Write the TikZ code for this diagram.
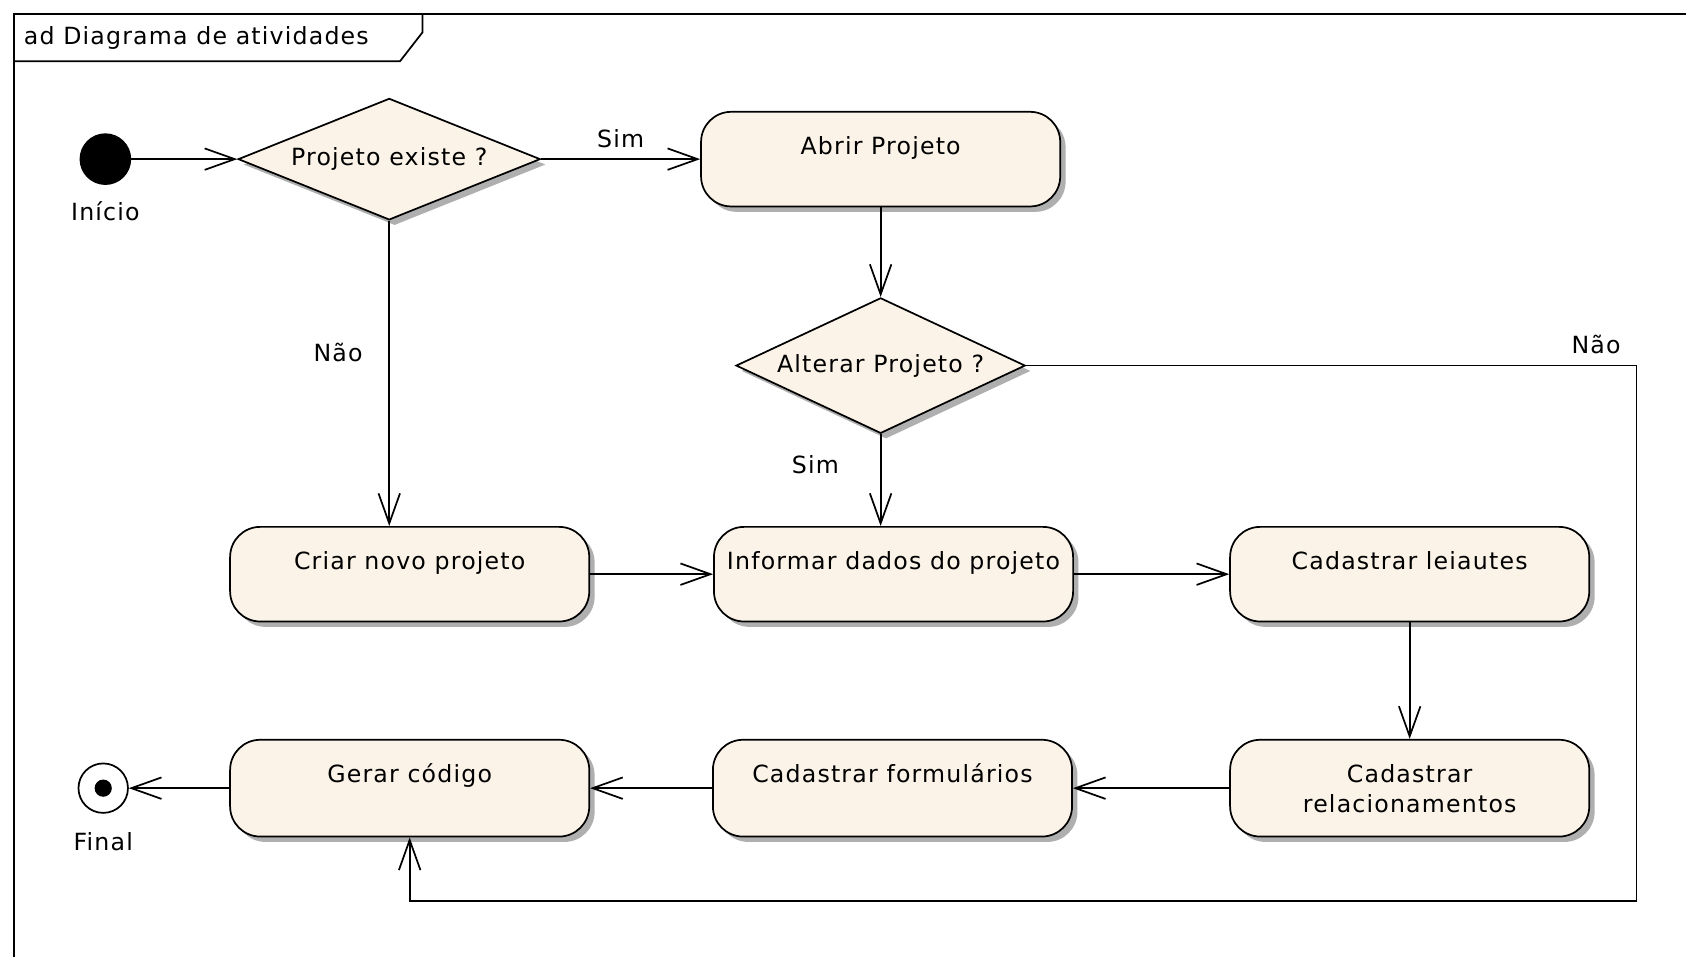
\documentclass[tikz,border=0pt]{standalone}
\usepackage{fontspec}
\setmainfont[LetterSpace=5]{DejaVu Sans}
\usetikzlibrary{arrows.meta,shapes.geometric,shadows}
\definecolor{actfill}{RGB}{251,243,232}
\definecolor{shadowgray}{RGB}{175,175,175}
\begin{document}
\begin{tikzpicture}[x=1pt,y=-1pt,
  font=\fontsize{22}{28}\selectfont,
  frameline/.style={line width=1.6pt},
  myshadow/.style={drop shadow={shadow xshift=5pt, shadow yshift=-5pt, fill=shadowgray, opacity=1}},
  activity/.style={draw, line width=1.6pt, fill=actfill, rounded corners=28pt,
    minimum width=334pt, inner sep=0pt, text height=40pt, text depth=48pt,
    align=center, myshadow},
  actlow/.style={activity, text depth=50pt},
  decision/.style={draw, diamond, line width=1.6pt, fill=actfill, inner sep=0pt, myshadow},
  flow/.style={line width=1.6pt, -{Straight Barb[length=28pt,width=20pt]}},
  lbl/.style={inner sep=0pt}
]
\clip (0,0) rectangle (1568,890);
\fill[white] (0,0) rectangle (1568,890);
% frame
\draw[frameline] (13,900) -- (13,13) -- (1580,13);
\draw[frameline] (13,57) -- (372,57) -- (393,30) -- (393,13);
\node[anchor=west, inner sep=0pt] (title) at (22,35) {ad Diagrama de atividades};

% nodes
\node[circle, fill=black, minimum size=48pt, inner sep=0pt,
  label={[label distance=12pt]below:Início}] (ini) at (98,148) {};
\node[decision, minimum width=281pt, minimum height=113pt, shape aspect=2.5] (d1) at (362,148) {Projeto existe ?};
\node[activity] (abrir) at (819,148) {Abrir Projeto};
\node[decision, minimum width=269pt, minimum height=126pt, shape aspect=2.1] (d2) at (819,340) {Alterar Projeto ?};
\node[activity] (criar) at (381,534) {Criar novo projeto};
\node[activity] (inf) at (831,534) {Informar dados do projeto};
\node[activity] (leia) at (1311,534) {Cadastrar leiautes};
\node[activity, text height=68pt, text depth=22pt] (rel) at (1311,733) {Cadastrar\\relacionamentos};
\node[actlow] (form) at (830,733) {Cadastrar formulários};
\node[actlow] (gerar) at (381,733) {Gerar código};
\node[circle, draw, line width=1.6pt, fill=white, minimum size=46pt, inner sep=0pt,
  path picture={\fill[black] (path picture bounding box.center) circle (8pt);},
  label={[label distance=14pt]below:Final}] (fin) at (96,733) {};

\coordinate (c1) at (1522,340);
\coordinate (c2) at (1522,838);
\coordinate (c3) at (381,838);

% connectors
\draw[flow] (ini) -- (d1);
\draw[flow] (d1) -- node[lbl, above=10pt]{Sim} (abrir);
\draw[flow] (d1) -- node[lbl, pos=0.43, left=24pt]{Não} (d1.south |- criar.north);
\draw[flow] (abrir) -- (d2);
\draw[flow] (d2) -- node[lbl, pos=0.33, left=38pt]{Sim} (d2.south |- inf.north);
\draw[flow] (criar) -- (inf);
\draw[flow] (inf) -- (leia);
\draw[flow] (leia) -- (rel);
\draw[flow] (rel) -- (form);
\draw[flow] (form) -- (gerar);
\draw[flow] (gerar) -- (fin);
\draw[flow] (d2) -- node[lbl, pos=1, anchor=south east, xshift=-14pt, yshift=10pt]{Não} (c1) -- (c2) -- (c3) -- (gerar);
\end{tikzpicture}
\end{document}
